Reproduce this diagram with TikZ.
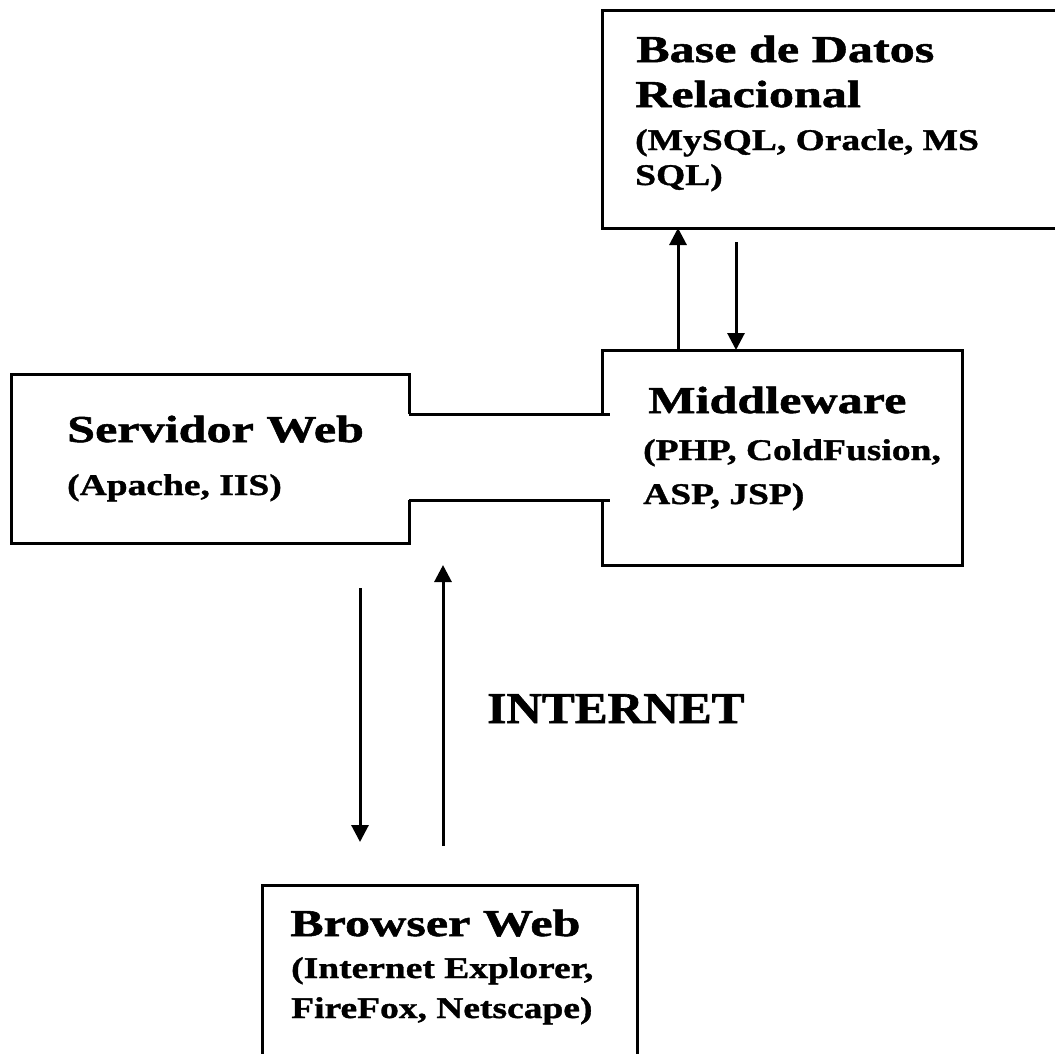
\documentclass[tikz,border=0pt]{standalone}
\usepackage{fontspec}
\setmainfont{Liberation Serif}[FakeStretch=1.25, FakeBold=1.2]
\newfontfamily\headfont{Liberation Serif}[FakeStretch=1.32, FakeBold=1.4]
\newfontfamily\inetfont{Liberation Serif}[FakeStretch=1.12, FakeBold=1.4]
\usetikzlibrary{arrows.meta}
\begin{document}
\begin{tikzpicture}[x=1pt,y=-1pt,
  boxline/.style={line width=3pt, line join=miter},
  arr/.style={line width=3pt, -{Triangle[width=17pt,length=17pt]}},
  head/.style={anchor=base west, inner sep=0pt, font=\headfont\fontsize{38}{38}\selectfont\bfseries},
  sub/.style={anchor=base west, inner sep=0pt, font=\fontsize{30}{30}\selectfont\bfseries}]
\useasboundingbox (0,0) rectangle (1055,1053);
\clip (0,0) rectangle (1055,1053);
\fill[white] (0,0) rectangle (1055,1053);

% Base de Datos box (right side beyond the picture)
\draw[boxline] (1070,10) -- (602,10) -- (602,228) -- (1070,228);
% Middleware box (left edge interrupted by the connection)
\draw[boxline] (602,414) -- (602,350) -- (962,350) -- (962,565) -- (602,565) -- (602,500);
% Servidor Web box (right edge interrupted by the connection)
\draw[boxline] (409,414) -- (409,374) -- (11,374) -- (11,543) -- (409,543) -- (409,500);
% connection between Servidor Web and Middleware
\draw[boxline] (409,414) -- (610,414);
\draw[boxline] (409,500) -- (610,500);
% Browser Web box (bottom beyond the picture)
\draw[boxline] (262,1070) -- (262,885) -- (637,885) -- (637,1070);

% texts
\node[head] (db1) at (636,62) {Base de Datos};
\node[head] (db2) at (635,107) {Relacional};
\node[sub]  (db3) at (635,150) {(MySQL, Oracle, MS};
\node[sub]  (db4) at (635,185) {SQL)};

\node[head] (mw1) at (648,413) {Middleware};
\node[sub]  (mw2) at (643,460) {(PHP, ColdFusion,};
\node[sub]  (mw3) at (643,504) {ASP, JSP)};

\node[head] (sw1) at (67,442) {Servidor Web};
\node[sub]  (sw2) at (67,495) {(Apache, IIS)};

\node[head] (bw1) at (290,936) {Browser Web};
\node[sub]  (bw2) at (291,978) {(Internet Explorer,};
\node[sub]  (bw3) at (291,1018) {FireFox, Netscape)};

\node[anchor=base west, inner sep=0pt, font=\inetfont\fontsize{44}{44}\selectfont\bfseries] (inet) at (487,723) {INTERNET};

% connector end points
\coordinate (mwUp) at (678,350);
\coordinate (dbUp) at (678,228);
\coordinate (dbDown) at (736,242);
\coordinate (mwDown) at (736,350);
\coordinate (swDown) at (360,588);
\coordinate (bwDown) at (360,842);
\coordinate (bwUp) at (443,846);
\coordinate (swUp) at (443,565);

\draw[arr] (mwUp) -- (dbUp);
\draw[arr] (dbDown) -- (mwDown);
\draw[arr] (swDown) -- (bwDown);
\draw[arr] (bwUp) -- (swUp);
\end{tikzpicture}
\end{document}
